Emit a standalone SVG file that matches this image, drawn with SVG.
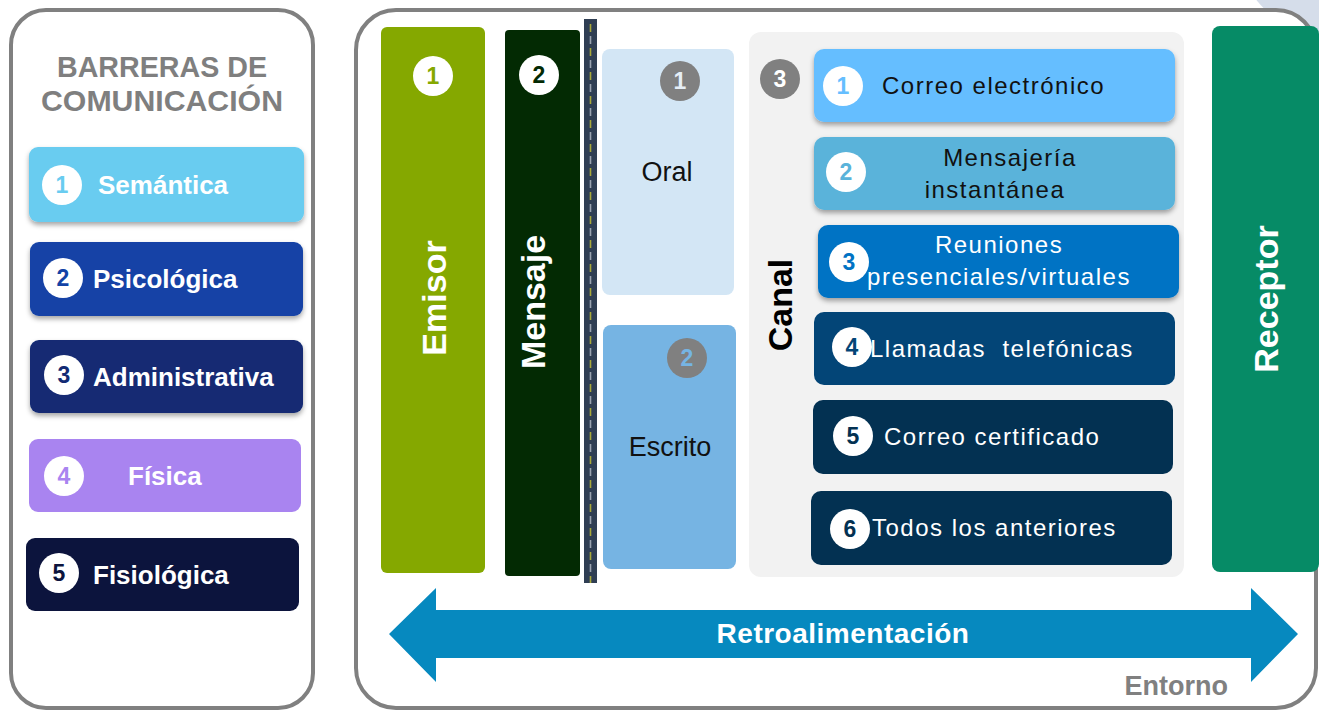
<svg xmlns="http://www.w3.org/2000/svg" width="1319" height="711" viewBox="0 0 1319 711">
<defs>
<style>
.panel{fill:#fff;stroke:#808080;stroke-width:4}
.lbl{font-family:"Liberation Sans","Noto Sans",sans-serif;font-weight:bold;fill:#fff;font-size:26px}
.num{font-family:"Liberation Sans","Noto Sans",sans-serif;font-weight:bold;font-size:23px;text-anchor:middle}
.ch{font-family:"Liberation Sans","Noto Sans",sans-serif;font-size:24px;letter-spacing:1.5px;white-space:pre}
.vert{font-family:"Liberation Sans","Noto Sans",sans-serif;font-weight:bold;font-size:34px;text-anchor:middle}
.title{font-family:"Liberation Sans","Noto Sans",sans-serif;font-weight:bold;font-size:30px;fill:#7f7f7f;text-anchor:middle}
.blk{font-family:"Liberation Sans","Noto Sans",sans-serif;font-size:27px;fill:#111;text-anchor:middle}
</style>
<filter id="sh" x="-10%" y="-20%" width="120%" height="150%">
<feDropShadow dx="0" dy="3" stdDeviation="2.5" flood-color="#000" flood-opacity="0.35"/>
</filter>
</defs>

<circle cx="1330" cy="-60" r="95" fill="#D5DDEA"/>

<g id="left-panel">
<rect class="panel" x="11" y="10" width="302" height="698" rx="35"/>
<text class="title" x="162" y="77" textLength="210" lengthAdjust="spacingAndGlyphs">BARRERAS DE</text>
<text class="title" x="162" y="111" textLength="242" lengthAdjust="spacingAndGlyphs">COMUNICACIÓN</text>
</g>

<g id="barrera-1">
<rect x="29" y="147" width="275" height="75" rx="9" fill="#69CCF0" filter="url(#sh)"/>
<circle cx="62" cy="185" r="20" fill="#fff"/>
<text class="num" x="62" y="193" fill="#69CCF0">1</text>
<text class="lbl" x="98" y="194">Semántica</text>
</g>
<g id="barrera-2">
<rect x="30" y="242" width="273" height="74" rx="9" fill="#1343A6" filter="url(#sh)"/>
<circle cx="63" cy="278" r="20" fill="#fff"/>
<text class="num" x="63" y="286" fill="#1343A6">2</text>
<text class="lbl" x="93" y="288">Psicológica</text>
</g>
<g id="barrera-3">
<rect x="30" y="340" width="273" height="73" rx="9" fill="#122A73" filter="url(#sh)"/>
<circle cx="64" cy="375" r="20" fill="#fff"/>
<text class="num" x="64" y="383" fill="#122A73">3</text>
<text class="lbl" x="93" y="386">Administrativa</text>
</g>
<g id="barrera-4">
<rect x="29" y="439" width="272" height="73" rx="9" fill="#A984F0"/>
<circle cx="64" cy="476" r="20" fill="#fff"/>
<text class="num" x="64" y="484" fill="#A984F0">4</text>
<text class="lbl" x="128" y="485">Física</text>
</g>
<g id="barrera-5">
<rect x="26" y="538" width="273" height="73" rx="9" fill="#0C143D"/>
<circle cx="59" cy="573" r="20" fill="#fff"/>
<text class="num" x="59" y="581" fill="#0C143D">5</text>
<text class="lbl" x="93" y="584">Fisiológica</text>
</g>

<g id="entorno">
<rect class="panel" x="356" y="10" width="960" height="698" rx="40"/>
<text x="1228" y="695" text-anchor="end" font-family="Liberation Sans, Noto Sans, sans-serif" font-weight="bold" font-size="27" fill="#808080">Entorno</text>
</g>

<g id="emisor">
<rect x="381" y="27" width="104" height="546" rx="6" fill="#85A800"/>
<circle cx="433" cy="76" r="20" fill="#fff"/>
<text class="num" x="433" y="84" fill="#85A800">1</text>
<text class="vert" transform="translate(446,298) rotate(-90)" fill="#fff">Emisor</text>
</g>

<g id="mensaje">
<rect x="505" y="30" width="75" height="546" rx="4" fill="#032A03"/>
<circle cx="539" cy="75" r="20" fill="#fff"/>
<text class="num" x="539" y="83" fill="#032A03">2</text>
<text class="vert" transform="translate(545,302) rotate(-90)" fill="#fff">Mensaje</text>
</g>

<g id="canal-via">
<rect x="584" y="19" width="13" height="564" fill="#2F3E53"/>
<line x1="590.5" y1="24" x2="590.5" y2="583" stroke="#A8A83A" stroke-width="1.6" stroke-dasharray="8 16"/>
<line x1="590.5" y1="24" x2="590.5" y2="583" stroke="#9AA3B0" stroke-width="1.6" stroke-dasharray="8 16" stroke-dashoffset="-12"/>
</g>

<g id="oral">
<rect x="602" y="49" width="132" height="246" rx="8" fill="#D3E6F5"/>
<circle cx="680" cy="81" r="20" fill="#808080"/>
<text class="num" x="680" y="89" fill="#E6EEF6">1</text>
<text class="blk" x="667" y="181">Oral</text>
</g>

<g id="escrito">
<rect x="603" y="325" width="133" height="244" rx="8" fill="#76B4E3"/>
<circle cx="687" cy="358" r="20" fill="#808080"/>
<text class="num" x="687" y="366" fill="#76B4E3">2</text>
<text class="blk" x="670" y="456">Escrito</text>
</g>

<g id="canal">
<rect x="749" y="32" width="435" height="545" rx="12" fill="#F2F2F2"/>
<circle cx="780" cy="79" r="20" fill="#808080"/>
<text class="num" x="780" y="87" fill="#fff">3</text>
<text class="vert" transform="translate(792,305) rotate(-90)" fill="#000">Canal</text>
</g>

<g id="canal-1">
<rect x="814" y="49" width="361" height="73" rx="10" fill="#65BEFF" filter="url(#sh)"/>
<circle cx="843" cy="86" r="20" fill="#fff"/>
<text class="num" x="843" y="94" fill="#65BEFF" font-weight="normal">1</text>
<text class="ch" x="882" y="94" fill="#111">Correo electrónico</text>
</g>
<g id="canal-2">
<rect x="814" y="137" width="361" height="73" rx="10" fill="#5AB3DA" filter="url(#sh)"/>
<circle cx="846" cy="172" r="20" fill="#fff"/>
<text class="num" x="846" y="180" fill="#5AB3DA" font-weight="normal">2</text>
<text class="ch" x="1010" y="166" text-anchor="middle" fill="#111">Mensajería</text>
<text class="ch" x="995" y="198" text-anchor="middle" fill="#111">instantánea</text>
</g>
<g id="canal-3">
<rect x="818" y="225" width="361" height="73" rx="10" fill="#0073C4" filter="url(#sh)"/>
<circle cx="849" cy="262" r="20" fill="#fff"/>
<text class="num" x="849" y="270" fill="#0073C4">3</text>
<text class="ch" x="999" y="253" text-anchor="middle" fill="#fff">Reuniones</text>
<text class="ch" x="999" y="285" text-anchor="middle" fill="#fff">presenciales/virtuales</text>
</g>
<g id="canal-4">
<rect x="814" y="312" width="361" height="73" rx="10" fill="#034577"/>
<circle cx="852" cy="347" r="20" fill="#fff"/>
<text class="num" x="852" y="355" fill="#034577">4</text>
<text class="ch" x="870" y="357" fill="#fff" xml:space="preserve">Llamadas  telefónicas</text>
</g>
<g id="canal-5">
<rect x="813" y="400" width="360" height="74" rx="10" fill="#033152"/>
<circle cx="853" cy="436" r="20" fill="#fff"/>
<text class="num" x="853" y="444" fill="#033152">5</text>
<text class="ch" x="884" y="445" fill="#fff">Correo certificado</text>
</g>
<g id="canal-6">
<rect x="811" y="491" width="361" height="74" rx="10" fill="#033152"/>
<circle cx="850" cy="529" r="20" fill="#fff"/>
<text class="num" x="850" y="537" fill="#033152">6</text>
<text class="ch" x="872" y="536" fill="#fff">Todos los anteriores</text>
</g>

<g id="receptor">
<rect x="1212" y="26" width="107" height="546" rx="8" fill="#068B66"/>
<text class="vert" transform="translate(1278,299) rotate(-90)" fill="#fff">Receptor</text>
</g>

<g id="connectors">
<g id="retroalimentacion">
<polygon points="389,634 436,588 436,610 1251,610 1251,588 1298,634 1251,682 1251,658 436,658 436,682" fill="#0689BF"/>
<text x="843" y="643" text-anchor="middle" font-family="Liberation Sans, Noto Sans, sans-serif" font-weight="bold" font-size="28" fill="#fff" letter-spacing="0.5">Retroalimentación</text>
</g>
</g>
</svg>
